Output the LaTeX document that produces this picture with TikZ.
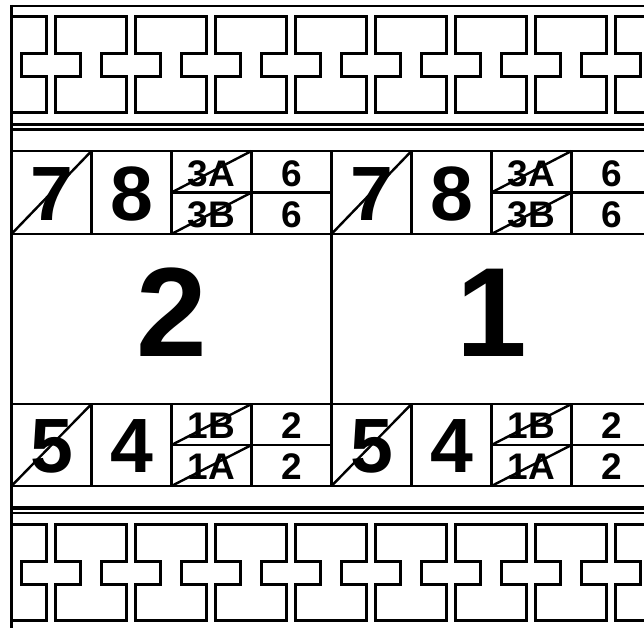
\documentclass[tikz,border=0pt]{standalone}
\usepackage{fontspec}
\setmainfont{Liberation Sans}

\begin{document}
\begin{tikzpicture}[x=1pt, y=-1pt,
  every node/.style={inner sep=0pt, anchor=base},
  bignum/.style={font=\fontsize{127}{127}\selectfont\bfseries},
  midnum/.style={font=\fontsize{77}{77}\selectfont\bfseries},
  subnum/.style={font=\fontsize{37}{37}\selectfont\bfseries},
  grid/.style={line width=2.4pt},
  beam/.style={line width=3pt, line join=miter},
  rule/.style={line width=3.4pt}
]
  \useasboundingbox (0,0) rectangle (644,628);
  \clip (0,0) rectangle (644,628);

  % beam strips, top and bottom
  \foreach \t in {17,524} {
    \begin{scope}
      \clip (11.5,0) rectangle (660,628);
      \foreach \x in {-25,55,...,615}
        \draw[beam] (\x,\t) -- ++(71,0) -- ++(0,37) -- ++(-25,0) -- ++(0,23)
          -- ++(25,0) -- ++(0,36) -- ++(-71,0) -- ++(0,-36) -- ++(25,0)
          -- ++(0,-23) -- ++(-25,0) -- cycle;
    \end{scope}
  }

  % rules
  \draw[grid] (10,6) -- (644,6);
  \draw[rule] (11.5,124.5) -- (644,124.5);
  \draw[grid] (11.5,129.5) -- (644,129.5);
  \draw[rule] (11.5,508) -- (644,508);
  \draw[grid] (11.5,513) -- (644,513);
  \draw[grid] (11.5,5) -- (11.5,628);

  % two modules
  \foreach \m/\n [count=\i] in {11.5/2, 331.5/1} {
    \draw[grid] (\m,151) rectangle ++(320,335);
    \draw[grid] (\m,234) -- ++(320,0) (\m,404) -- ++(320,0);
    \foreach \c in {80,160,240}
      \draw[grid] (\m+\c,151) -- (\m+\c,234) (\m+\c,404) -- (\m+\c,486);
    \draw[grid] (\m+160,192.5) -- ++(160,0) (\m+160,445) -- ++(160,0);

    \node[midnum] (seven-\i) at (\m+40,220) {7};
    \node[midnum] (eight-\i) at (\m+120,220) {8};
    \node[subnum] (tA-\i) at (\m+200,186) {3A};
    \node[subnum] (tB-\i) at (\m+200,227) {3B};
    \node[subnum] (sixa-\i) at (\m+280,186) {6};
    \node[subnum] (sixb-\i) at (\m+280,227) {6};
    \node[bignum] (main-\i) at (\m+160,356) {\n};
    \node[midnum] (five-\i) at (\m+40,472) {5};
    \node[midnum] (four-\i) at (\m+120,472) {4};
    \node[subnum] (oB-\i) at (\m+200,438) {1B};
    \node[subnum] (oA-\i) at (\m+200,479) {1A};
    \node[subnum] (twoa-\i) at (\m+280,438) {2};
    \node[subnum] (twob-\i) at (\m+280,479) {2};

    % strike lines
    \draw[grid] (\m,234) -- ++(80,-83) (\m+160,192.5) -- ++(80,-41.5)
      (\m+160,234) -- ++(80,-41.5);
    \draw[grid] (\m,486) -- ++(80,-82) (\m+160,445) -- ++(80,-41)
      (\m+160,486) -- ++(80,-41);
  }
\end{tikzpicture}
\end{document}
